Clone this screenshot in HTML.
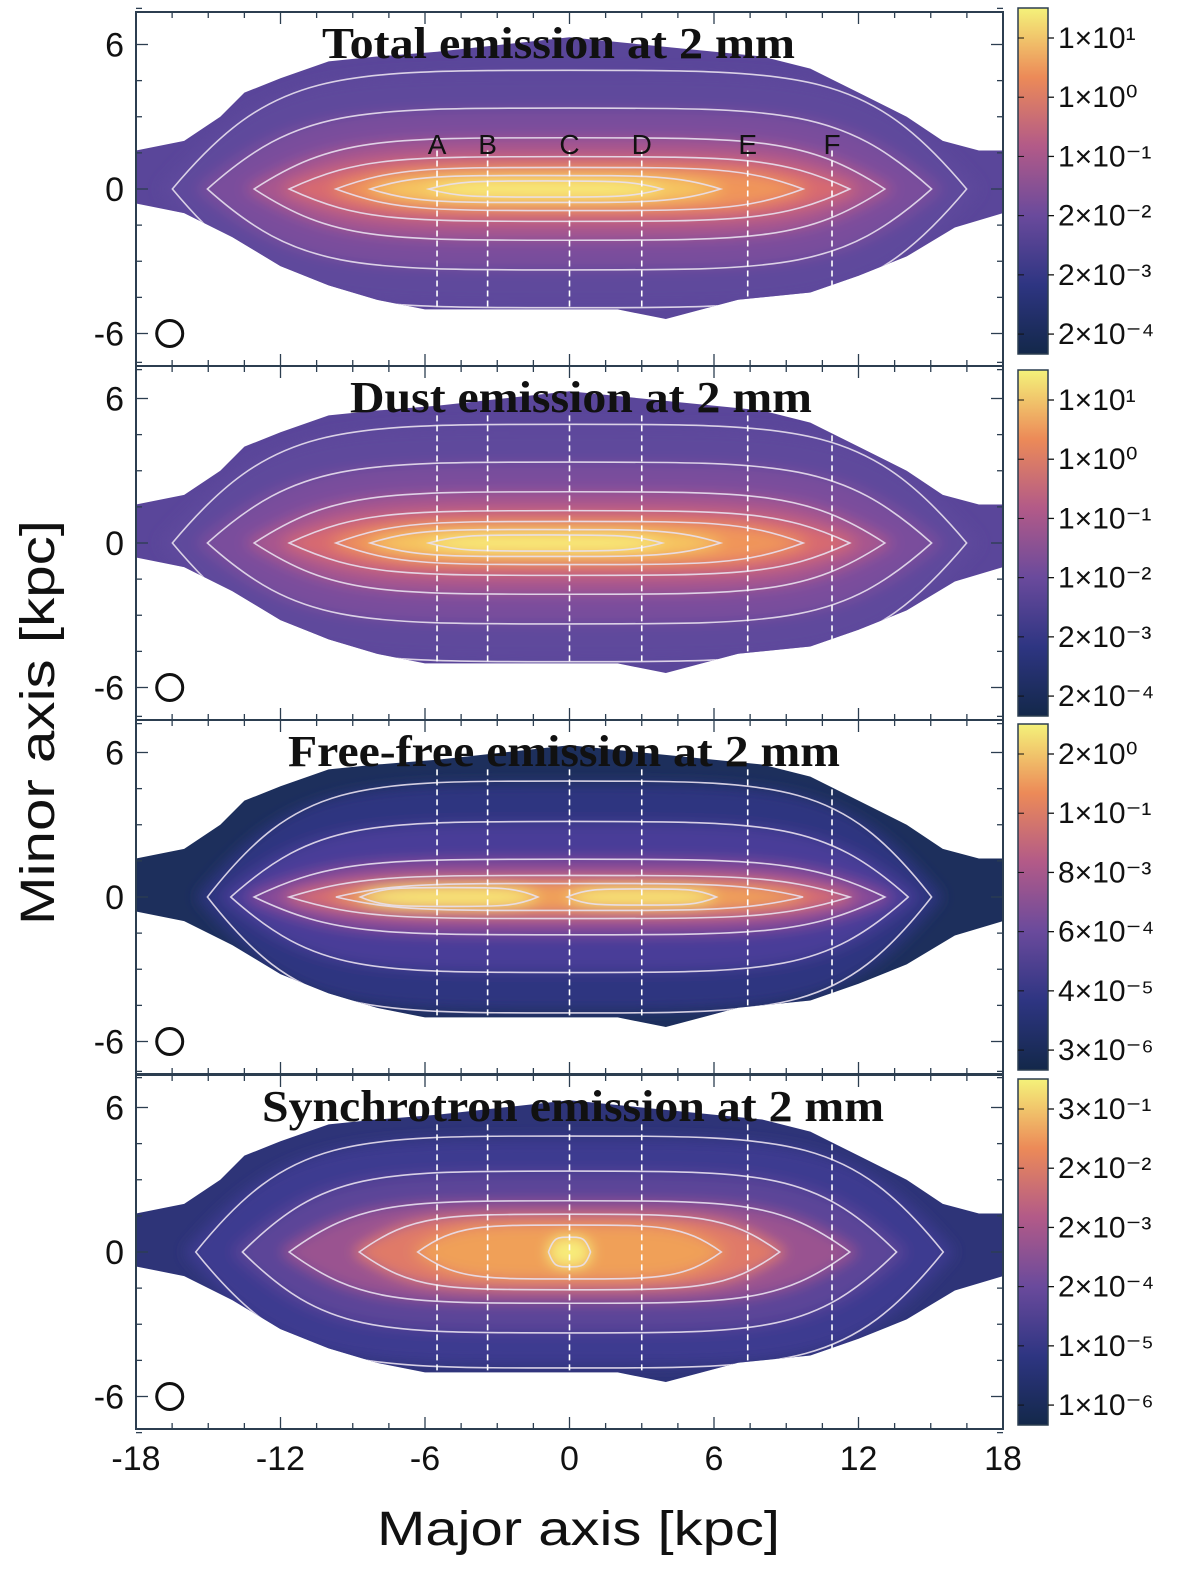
<!DOCTYPE html>
<html><head><meta charset="utf-8"><style>
body{margin:0;background:#fff;width:1200px;height:1571px;overflow:hidden}
svg{display:block}
</style></head><body>
<svg id="fig" width="1200" height="1571" xmlns="http://www.w3.org/2000/svg" font-family="Liberation Sans, sans-serif">
<defs>
<filter id="blur" x="-20%" y="-50%" width="140%" height="200%"><feGaussianBlur stdDeviation="7"/></filter>
<linearGradient id="cbar" x1="0" y1="1" x2="0" y2="0">
<stop offset="0" stop-color="#13284a"/><stop offset="0.2" stop-color="#2e3582"/><stop offset="0.4" stop-color="#6a4a9c"/><stop offset="0.6" stop-color="#b25a88"/><stop offset="0.8" stop-color="#ec8a58"/><stop offset="1" stop-color="#f4f27a"/>
</linearGradient>
</defs>
</svg>
<script>
const xTicks=[-18,-12,-6,0,6,12,18];
const yTicks=[6,0,-6];
const cuts=[-5.5,-3.4,0,3,7.4,10.9];
const cutLabels=['A','B','C','D','E','F'];
const titles=['Total emission at 2 mm','Dust emission at 2 mm','Free-free emission at 2 mm','Synchrotron emission at 2 mm'];
const titleSpans=[[322,795],[350,812],[288,840],[262,884]];
const cbTicks1=['1×10¹','1×10⁰','1×10⁻¹','2×10⁻²','2×10⁻³','2×10⁻⁴'];
const cbTicks2=['1×10¹','1×10⁰','1×10⁻¹','1×10⁻²','2×10⁻³','2×10⁻⁴'];
const cbTicks3=['2×10⁰','1×10⁻¹','8×10⁻³','6×10⁻⁴','4×10⁻⁵','3×10⁻⁶'];
const cbTicks4=['3×10⁻¹','2×10⁻²','2×10⁻³','2×10⁻⁴','1×10⁻⁵','1×10⁻⁶'];
const envTop=[[-18,1.6],[-16,2],[-14.5,3],[-13.5,4],[-12,4.6],[-10,5.3],[-8,5.5],[-5.5,5.7],[0,6.3],[3,6],[8,5.5],[10,5],[12,4],[14,3],[15.5,2],[17,1.6],[18,1.6]];
const envBot=[[18,-1],[16,-1.6],[14,-2.8],[12,-3.6],[10,-4.3],[7,-4.6],[4,-5.4],[2,-5],[-6,-5],[-8,-4.6],[-10,-4],[-12,-3.2],[-14,-2],[-16,-1],[-18,-0.6]];
// levels: [centerX, halfX, halfY, color] in kpc
const lev1=[[0,17,4.4,'#5f4a9c'],[0,15.5,3,'#7a4e9c'],[0,13.5,1.9,'#a8568e'],[0,12,1.2,'#d86a70'],[0,10,0.8,'#f0955a'],[-1,7.5,0.5,'#f6c862'],[-1,5,0.3,'#f8ec7a']];
const lev2=[[0,17,4.4,'#5f4a9c'],[0,15.5,3,'#7a4e9c'],[0,13.5,1.9,'#a8568e'],[0,12,1.2,'#d86a70'],[0,10,0.8,'#f0955a'],[-1,7.5,0.5,'#f6c862'],[-1,5,0.3,'#f8ec7a']];
const lev3=[[0,15.5,4.3,'#2e3580'],[0,14.5,2.8,'#4a3c98'],[0,13.5,1.4,'#8a4c98'],[0,12,0.8,'#d86e70'],[0,10,0.5,'#f0a058'],[-5,3.8,0.35,'#f8e878'],[3,3.2,0.3,'#f8e878']];
const lev4=[[0,16,4.3,'#3e3a90'],[0,14,3,'#5c4498'],[0,12,1.9,'#9a5290'],[0,9,1.4,'#e07a68'],[0,6.5,1.0,'#f0a058'],[0,0.9,0.55,'#f8ec7a']];
const bases=['#5a469a','#5a469a','#1d2f5c','#2e3478'];
const panelLevels=[lev1,lev2,lev3,lev4];
const cbTickSets=[cbTicks1,cbTicks2,cbTicks3,cbTicks4];
const panelTops=[12,366,720,1075], panelH=354;
const X0=136,X1=1003;
const sx=v=>X0+(v+18)/36*(X1-X0);
const kpcPx=(X1-X0)/36;
const NS='http://www.w3.org/2000/svg';
const svg=document.getElementById('fig');
function mk(tag,attrs,parent){const e=document.createElementNS(NS,tag);for(const k in attrs)e.setAttribute(k,attrs[k]);(parent||svg).appendChild(e);return e;}
function lens(cx,cy,w,h){
  return `M${cx-w},${cy} C${cx-w*0.75},${cy-h} ${cx-w*0.6},${cy-h} ${cx},${cy-h} C${cx+w*0.6},${cy-h} ${cx+w*0.75},${cy-h} ${cx+w},${cy} C${cx+w*0.75},${cy+h} ${cx+w*0.6},${cy+h} ${cx},${cy+h} C${cx-w*0.6},${cy+h} ${cx-w*0.75},${cy+h} ${cx-w},${cy} Z`;
}
const defs=svg.querySelector('defs');
panelTops.forEach((top,p)=>{
  const cy=top+panelH/2;
  const sy=v=>cy-v*kpcPx;
  const g=mk('g',{});
  
  
  const cp=mk('clipPath',{id:'env'+p},defs);
  const pts=envTop.concat(envBot).map(q=>sx(q[0])+','+sy(q[1])).join(' ');
  mk('polygon',{points:pts},cp);
  const hm=mk('g',{'clip-path':'url(#env'+p+')'},g);
  
  
  mk('rect',{x:X0,y:top,width:X1-X0,height:panelH,fill:bases[p]},hm);
  const bl=mk('g',{filter:'url(#blur)'},hm);
  panelLevels[p].forEach(l=>{
    const e=mk('path',{d:lens(sx(l[0]),sy(0),l[1]*kpcPx,l[2]*kpcPx*1.1),fill:l[3]},bl);
    
    
  });
  panelLevels[p].forEach(l=>{
    const e=mk('path',{d:lens(sx(l[0]),sy(0),l[1]*kpcPx*0.97,l[2]*kpcPx*1.12),fill:'none',stroke:'#e8e0ee','stroke-width':1.6,opacity:0.9},hm);
    
    
  });
  cuts.forEach((c,i)=>{
    const ln=mk('line',{x1:sx(c),x2:sx(c),y1:sy(p==0?1.6:5.3),y2:sy(-5),stroke:'#fff','stroke-width':1.6,'stroke-dasharray':'6,4'},g);
    
    
    if(p==0){const t=mk('text',{x:sx(c),y:sy(1.2)-6,'text-anchor':'middle','font-size':28,fill:'#111'},g);t.textContent=cutLabels[i];
      }
  });
  const fr=mk('rect',{x:X0,y:top,width:X1-X0,height:panelH,fill:'none',stroke:'#2c3e50','stroke-width':2},g);
  
  
  for(let v=-18;v<=18;v+=1.5){const major=v%6==0;const L=major?12:6;
    mk('line',{x1:sx(v),x2:sx(v),y1:top,y2:top+L,stroke:'#2c3e50','stroke-width':1.3},g);
    mk('line',{x1:sx(v),x2:sx(v),y1:top+panelH,y2:top+panelH-L,stroke:'#2c3e50','stroke-width':1.3},g);}
  for(let v=-7.5;v<=7.5;v+=1.5){const major=v%6==0;const L=major?12:6;
    mk('line',{x1:X0,x2:X0+L,y1:sy(v),y2:sy(v),stroke:'#2c3e50','stroke-width':1.3},g);
    mk('line',{x1:X1,x2:X1-L,y1:sy(v),y2:sy(v),stroke:'#2c3e50','stroke-width':1.3},g);}
  yTicks.forEach(v=>{const t=mk('text',{x:X0-12,y:sy(v)+12,'text-anchor':'end','font-size':34,fill:'#111'},g);t.textContent=v;
    });
  const sp=titleSpans[p];
  const tt=mk('text',{x:sp[0],y:top+46,'font-size':44,'font-weight':'bold','font-family':'Liberation Serif, serif',fill:'#111',textLength:sp[1]-sp[0],lengthAdjust:'spacingAndGlyphs'},g);
  tt.textContent=titles[p];
  const bc=mk('circle',{cx:sx(-16.6),cy:sy(-6),r:13,fill:'none',stroke:'#111','stroke-width':3},g);
  
  const cbTop=top+(p==0?-4:4), cbH=346;
  const cb=mk('g',{},g);
  mk('rect',{x:1018,y:cbTop,width:30,height:cbH,fill:'url(#cbar)',stroke:'#2c3e50','stroke-width':1.5},cb);
  cbTickSets[p].forEach((s,i)=>{const y=cbTop+30+i*(cbH-44)/5.1;
    mk('line',{x1:1048,x2:1054,y1:y,y2:y,stroke:'#111','stroke-width':1.3},cb);
    mk('line',{x1:1018,x2:1024,y1:y,y2:y,stroke:'#111','stroke-width':1},cb);
    const t=mk('text',{x:1058,y:y+10,'font-size':30,fill:'#111'},cb);t.textContent=s;
    });
});
xTicks.forEach(v=>{const t=mk('text',{x:sx(v),y:1470,'text-anchor':'middle','font-size':34,fill:'#111'});t.textContent=v;
  });
const xt=mk('text',{x:377,y:1545,'font-size':48,fill:'#111',textLength:403,lengthAdjust:'spacingAndGlyphs'});xt.textContent='Major axis [kpc]';

const yt=mk('text',{x:0,y:0,'font-size':48,fill:'#111',textLength:405,lengthAdjust:'spacingAndGlyphs',transform:'translate(54 925) rotate(-90)'});yt.textContent='Minor axis [kpc]';

</script>
</body></html>
